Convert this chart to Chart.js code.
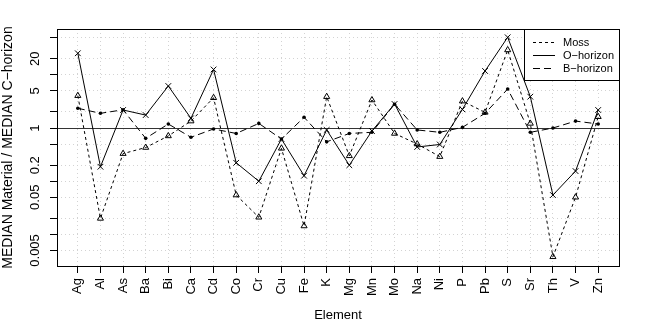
<!DOCTYPE html>
<html>
<head>
<meta charset="utf-8">
<script src="https://cdn.jsdelivr.net/npm/chart.js@4.4.0/dist/chart.umd.min.js"></script>
<style>
body { margin: 0; background: #fff; }
#wrap { width: 648px; height: 324px; position: relative; }
</style>
</head>
<body>
<div id="wrap"><canvas id="c"></canvas></div>
<script>
const elements = ['Ag','Al','As','Ba','Bi','Ca','Cd','Co','Cr','Cu','Fe','K','Mg','Mn','Mo','Na','Ni','P','Pb','S','Sr','Th','V','Zn'];
const moss     = [4.05, 0.020, 0.33, 0.43, 0.71, 1.35, 3.7, 0.055, 0.021, 0.415, 0.0144, 3.88, 0.30, 3.36, 0.79, 0.50, 0.29, 3.2, 1.97, 29.3, 1.22, 0.0038, 0.05, 1.63];
const oHorizon = [25.4, 0.187, 2.18, 1.75, 6.16, 1.52, 12.6, 0.222, 0.10, 0.62, 0.127, 0.92, 0.20, 0.88, 2.83, 0.44, 0.49, 2.24, 11.8, 50.7, 3.88, 0.055, 0.155, 2.18];
const bHorizon = [2.35, 1.89, 2.2, 0.64, 1.19, 0.67, 0.96, 0.79, 1.22, 0.62, 1.59, 0.55, 0.79, 0.83, 2.8, 0.92, 0.83, 1.03, 1.89, 5.4, 0.83, 1.0, 1.35, 1.19];
const yTicks  = [0.005, 0.01, 0.02, 0.05, 0.1, 0.2, 0.5, 1, 2, 5, 10, 20, 50];
const yLabels = [0.005, 0.05, 0.2, 1, 5, 20];

const toPoints = (arr) => arr.map((v, i) => ({x: i, y: v}));

Chart.defaults.font.family = 'Liberation Sans';
Chart.defaults.font.size = 13;
Chart.defaults.color = '#000';

// box, line at 1 and the legend
const extras = {
  id: 'extras',
  beforeDatasetsDraw(chart) {
    const ctx = chart.ctx, a = chart.chartArea;
    const y1 = Math.round(chart.scales.y.getPixelForValue(1)) + 0.5;
    ctx.save();
    ctx.strokeStyle = '#333';
    ctx.lineWidth = 1;
    ctx.beginPath();
    ctx.moveTo(a.left, y1);
    ctx.lineTo(a.right, y1);
    ctx.stroke();
    ctx.restore();
  },
  afterDraw(chart) {
    const ctx = chart.ctx, a = chart.chartArea;
    ctx.save();
    ctx.strokeStyle = '#000';
    ctx.lineWidth = 1;
    ctx.strokeRect(Math.round(a.left) + 0.5, Math.round(a.top) + 0.5, Math.round(a.right - a.left), Math.round(a.bottom - a.top));

    const lx = 524.5, ly = Math.round(a.top) + 0.5, lw = Math.round(a.right) - 524, lh = 51;
    ctx.fillStyle = '#fff';
    ctx.fillRect(lx, ly, lw, lh);
    ctx.strokeRect(lx, ly, lw, lh);
    const rows = [['Moss', [3, 3]], ['O\u2212horizon', []], ['B\u2212horizon', [7, 4]]];
    ctx.font = '11px "Liberation Sans"';
    ctx.fillStyle = '#000';
    ctx.textBaseline = 'middle';
    rows.forEach((r, i) => {
      const y = 42.5 + i * 13;
      ctx.setLineDash(r[1]);
      ctx.beginPath();
      ctx.moveTo(533, y);
      ctx.lineTo(555, y);
      ctx.stroke();
      ctx.setLineDash([]);
      ctx.fillText(r[0], 563, y);
    });
    ctx.restore();
  }
};

new Chart(document.getElementById('c'), {
  type: 'line',
  data: {
    datasets: [
      {
        label: 'Moss',
        data: toPoints(moss),
        borderColor: '#000',
        borderWidth: 1,
        borderDash: [3, 3],
        pointStyle: 'triangle',
        pointRadius: 3.5,
        pointBorderWidth: 1,
        pointBorderColor: '#000',
        pointBackgroundColor: 'rgba(0,0,0,0)'
      },
      {
        label: 'O-horizon',
        data: toPoints(oHorizon),
        borderColor: '#000',
        borderWidth: 1,
        pointStyle: 'crossRot',
        pointRadius: 4,
        pointBorderWidth: 1,
        pointBorderColor: '#000'
      },
      {
        label: 'B-horizon',
        data: toPoints(bHorizon),
        borderColor: '#000',
        borderWidth: 1,
        borderDash: [7, 4],
        pointStyle: 'circle',
        pointRadius: 1.8,
        pointBorderWidth: 0,
        pointBackgroundColor: '#000'
      }
    ]
  },
  options: {
    responsive: true,
    maintainAspectRatio: false,
    animation: false,
    layout: { padding: { left: 0, right: 29, top: 29, bottom: 0 } },
    plugins: { legend: { display: false }, tooltip: { enabled: false } },
    elements: { line: { tension: 0 } },
    scales: {
      x: {
        type: 'linear',
        min: -0.92,
        max: 23.92,
        afterBuildTicks: (s) => { s.ticks = elements.map((e, i) => ({value: i})); },
        afterFit: (s) => { s.height = 58; },
        ticks: {
          autoSkip: false,
          minRotation: 90,
          maxRotation: 90,
          padding: 5,
          callback: (v) => elements[v]
        },
        grid: { color: '#d3d3d3', tickColor: '#000', tickLength: 7, tickBorderDash: [] },
        border: { display: false, dash: [1, 3] },
        title: { display: true, text: 'Element', font: { size: 13 }, padding: { top: 0, bottom: 0.5 } }
      },
      y: {
        type: 'logarithmic',
        min: 0.00255,
        max: 72.6,
        afterBuildTicks: (s) => { s.ticks = yTicks.map(v => ({value: v})); },
        afterFit: (s) => { s.width = 57; },
        ticks: {
          autoSkip: false,
          minRotation: 90,
          maxRotation: 90,
          crossAlign: 'center',
          padding: -2,
          callback: (v) => yLabels.includes(v) ? String(v) : ''
        },
        grid: { color: '#d3d3d3', tickColor: '#000', tickLength: 7, tickBorderDash: [] },
        border: { display: false, dash: [1, 3] },
        title: { display: true, text: 'MEDIAN Material / MEDIAN C\u2212horizon', font: { size: 14 }, padding: { top: 0, bottom: 0 } }
      }
    }
  },
  plugins: [extras]
});
</script>
</body>
</html>
